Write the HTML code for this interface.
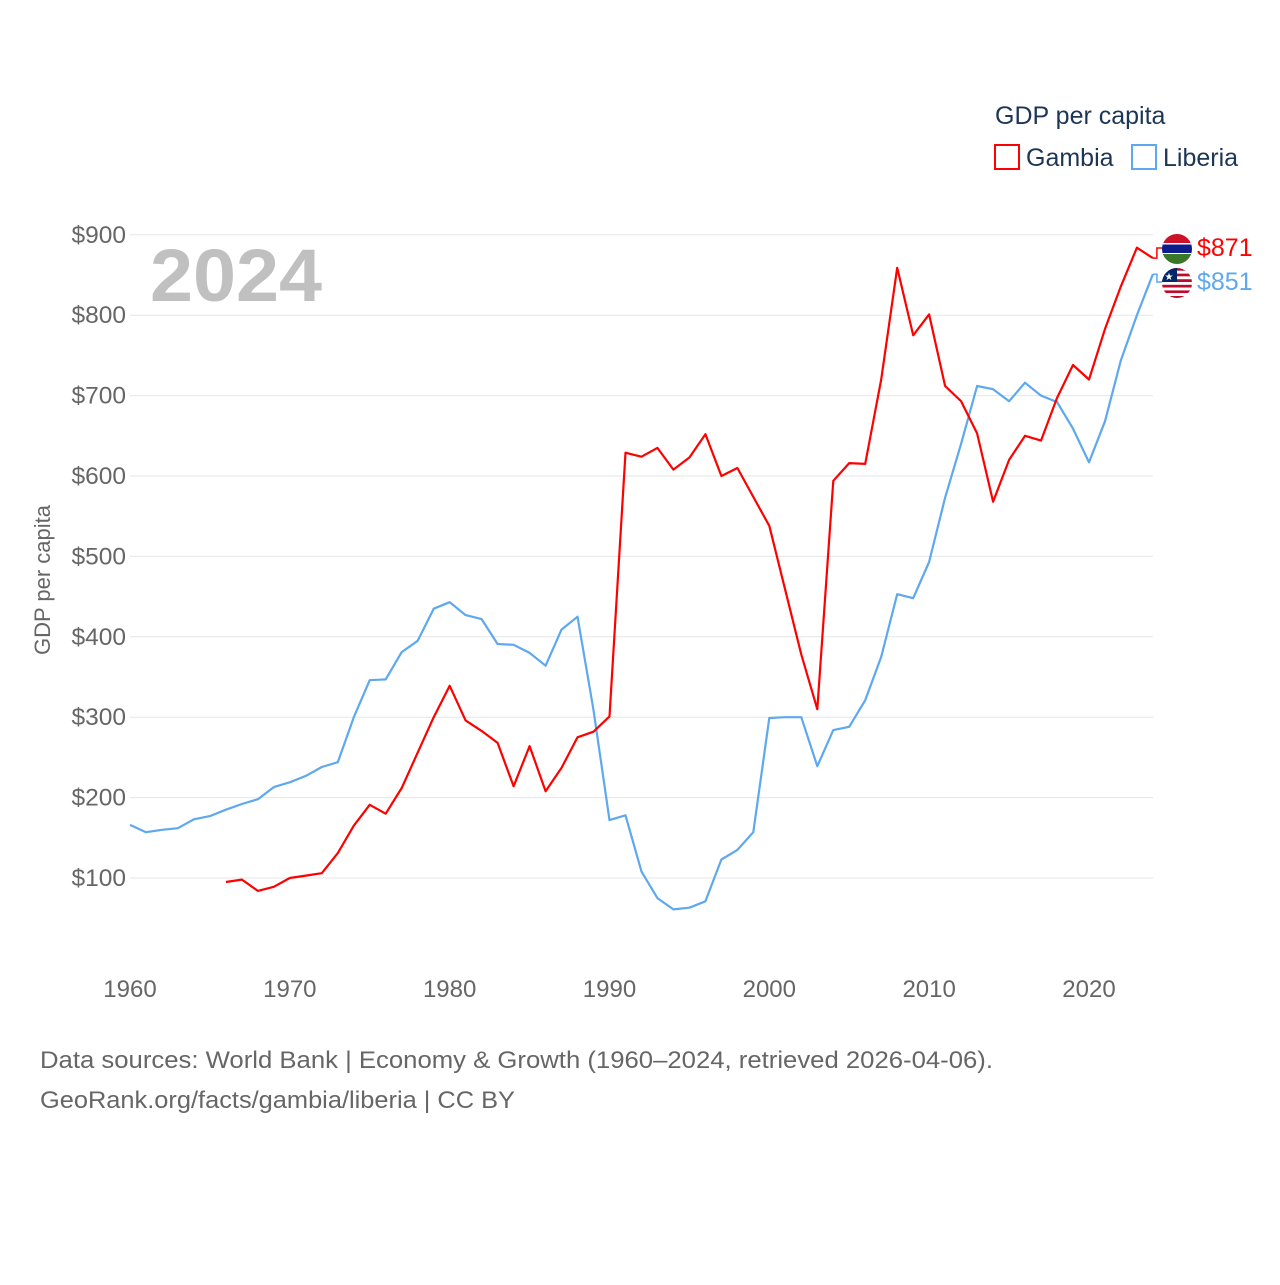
<!DOCTYPE html>
<html><head><meta charset="utf-8"><style>
body{margin:0;background:#fff;font-family:"Liberation Sans",sans-serif;}
svg text{font-family:"Liberation Sans",sans-serif;}
</style></head><body>
<svg id="chart" width="1280" height="1280" viewBox="0 0 1280 1280">
<text x="995" y="124" font-size="25" fill="#1d3557">GDP per capita</text>
<rect x="995" y="145" width="24" height="24" fill="none" stroke="#f00" stroke-width="2"/>
<text x="1026" y="166" font-size="25" fill="#1d3557">Gambia</text>
<rect x="1132" y="145" width="24" height="24" fill="none" stroke="#5da8ee" stroke-width="2"/>
<text x="1163" y="166" font-size="25" fill="#1d3557">Liberia</text>
<text x="150" y="301" font-size="74" font-weight="bold" fill="#c0c0c0" textLength="172" lengthAdjust="spacingAndGlyphs">2024</text>
<text transform="translate(50,580) rotate(-90)" text-anchor="middle" font-size="22" fill="#666">GDP per capita</text>
<g id="grid"></g><g id="xt"></g><g id="series"></g>
<text x="40" y="1068" font-size="24" fill="#666" textLength="953" lengthAdjust="spacingAndGlyphs">Data sources: World Bank | Economy &amp; Growth (1960–2024, retrieved 2026-04-06).</text>
<text x="40" y="1108" font-size="24" fill="#666" textLength="475" lengthAdjust="spacingAndGlyphs">GeoRank.org/facts/gambia/liberia | CC BY</text>
</svg>
<script>
const yTicks=[100,200,300,400,500,600,700,800,900];
const xTicks=[1960,1970,1980,1990,2000,2010,2020];
const liberiaStart=1960;
const liberia=[166,157,160,162,173,177,185,192,198,213,219,227,238,244,300,346,347,381,395,435,443,427,422,391,390,380,364,409,425,309,172,178,108,75,61,63,71,123,135,157,299,300,300,239,284,288,321,375,453,448,493,573,640,712,708,693,716,700,692,659,617,668,744,800,851];
const gambiaStart=1966;
const gambia=[95,98,84,89,100,103,106,131,165,191,180,212,256,300,339,296,283,268,214,264,208,237,275,282,301,629,624,635,608,623,652,600,610,574,538,458,378,310,594,616,615,720,859,775,801,712,693,653,568,620,650,644,697,738,720,783,836,884,871];
const NS="http://www.w3.org/2000/svg";
const X=y=>130+(y-1960)*15.983;
const Y=v=>958.4-v*0.804;
function mk(t,a,p){const e=document.createElementNS(NS,t);for(const k in a)e.setAttribute(k,a[k]);p.appendChild(e);return e;}
const grid=document.getElementById('grid');
yTicks.forEach(v=>{
 const l=mk('line',{x1:130,x2:1153,y1:Y(v),y2:Y(v),stroke:'#e6e6e6','stroke-width':1},grid);
 
 
 const t=mk('text',{x:126,y:Y(v)+8,'text-anchor':'end','font-size':24.5,fill:'#666'},grid);
 t.textContent='$'+v;
 
 
});
const xt=document.getElementById('xt');
xTicks.forEach(v=>{
 const t=mk('text',{x:X(v),y:997,'text-anchor':'middle','font-size':24,fill:'#666'},xt);
 t.textContent=v;
 
 
});
const s=document.getElementById('series');
function line(data,start,color,name){
 const pts=data.map((v,i)=>X(start+i).toFixed(1)+','+Y(v).toFixed(1)).join(' ');
 const p=mk('polyline',{points:pts,fill:'none',stroke:color,'stroke-width':2.2,'stroke-linejoin':'round'},s);
 
 
}
line(liberia,liberiaStart,'#5da8ee','liberia-line');
line(gambia,gambiaStart,'#f00','gambia-line');
const gv=gambia[gambia.length-1], lv=liberia[liberia.length-1];
const gy=248, ly=282, ex=X(2024);
mk('polyline',{points:`${ex},${Y(gv)} ${ex+4},${Y(gv)} ${ex+4},${gy} ${ex+10},${gy}`,fill:'none',stroke:'#f00','stroke-width':1.5},s);
mk('polyline',{points:`${ex},${Y(lv)} ${ex+4},${Y(lv)} ${ex+4},${ly} ${ex+10},${ly}`,fill:'none',stroke:'#5da8ee','stroke-width':1.5},s);
const fg=mk('g',{},s);


const cp1=mk('clipPath',{id:'c1'},fg);mk('circle',{cx:1177,cy:249,r:15},cp1);
const g1=mk('g',{'clip-path':'url(#c1)'},fg);
mk('rect',{x:1160,y:234,width:34,height:10,fill:'#ce1126'},g1);
mk('rect',{x:1160,y:244,width:34,height:10,fill:'#0c1c8c'},g1);
mk('rect',{x:1160,y:243,width:34,height:1.5,fill:'#fff'},g1);
mk('rect',{x:1160,y:253,width:34,height:1.5,fill:'#fff'},g1);
mk('rect',{x:1160,y:254,width:34,height:11,fill:'#3a7728'},g1);
const lf=mk('g',{},s);


const cp2=mk('clipPath',{id:'c2'},lf);mk('circle',{cx:1177,cy:283,r:15},cp2);
const g2=mk('g',{'clip-path':'url(#c2)'},lf);
for(let i=0;i<11;i++)mk('rect',{x:1160,y:268+i*2.8,width:34,height:2.8,fill:i%2?'#fff':'#bf0a30'},g2);
mk('rect',{x:1160,y:268,width:17,height:14,fill:'#002868'},g2);
mk('text',{x:1169,y:280,'font-size':10,fill:'#fff','text-anchor':'middle'},g2).textContent='★';
const t1=mk('text',{x:1197,y:256,'font-size':25,fill:'#f00'},s);
t1.textContent='$'+gv;


const t2=mk('text',{x:1197,y:290,'font-size':25,fill:'#5da8ee'},s);
t2.textContent='$'+lv;


</script>
</body></html>
